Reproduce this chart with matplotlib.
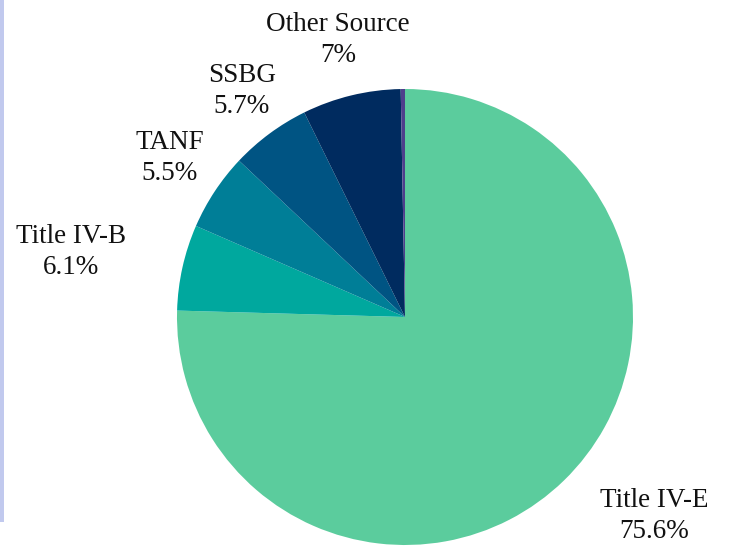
import matplotlib.pyplot as plt
from matplotlib.patches import Rectangle

sources = ['Title IV-E', 'Title IV-B', 'TANF', 'SSBG', 'Other Source', '']
shares = [75.6, 6.1, 5.5, 5.7, 7.0, 0.3]
share_text = ['75.6%', '6.1%', '5.5%', '5.7%', '7%']
colors = ['#5BCC9D', '#00A89E', '#007E97', '#005483', '#002B5F', '#4E3F8C']


def main():
    plt.rcParams['font.family'] = ['Liberation Serif', 'DejaVu Serif']

    fig = plt.figure(figsize=(7.3, 5.46), dpi=100)
    # axes sized so that pie radius 1 = 228 px, centred at (405, 317)
    ax = fig.add_axes([177 / 730, 1 / 546, 456 / 730, 456 / 546])
    ax.pie(shares, colors=colors, startangle=90, counterclock=False,
           radius=1, wedgeprops=dict(linewidth=0))
    ax.set_xlim(-1, 1)
    ax.set_ylim(-1, 1)
    ax.set_aspect('equal')
    ax.axis('off')

    # label spots (data units), picked to sit where the reference has them
    spots = [(1.092, -0.873), (-1.465, 0.285), (-1.031, 0.697),
             (-0.715, 0.991), (-0.294, 1.215)]
    for i in range(len(share_text)):
        x, y = spots[i]
        ax.text(x, y, sources[i] + '\n' + share_text[i], ha='center', va='center',
                fontsize=19.5, linespacing=1.35, color='#111111', clip_on=False)

    # thin bar at the left edge
    fig.patches.append(Rectangle((0, 24 / 546), 4 / 730, 522 / 546,
                                 transform=fig.transFigure, color='#C1C9EE',
                                 linewidth=0))

    fig.savefig('out.png', dpi=100)


if __name__ == '__main__':
    main()
